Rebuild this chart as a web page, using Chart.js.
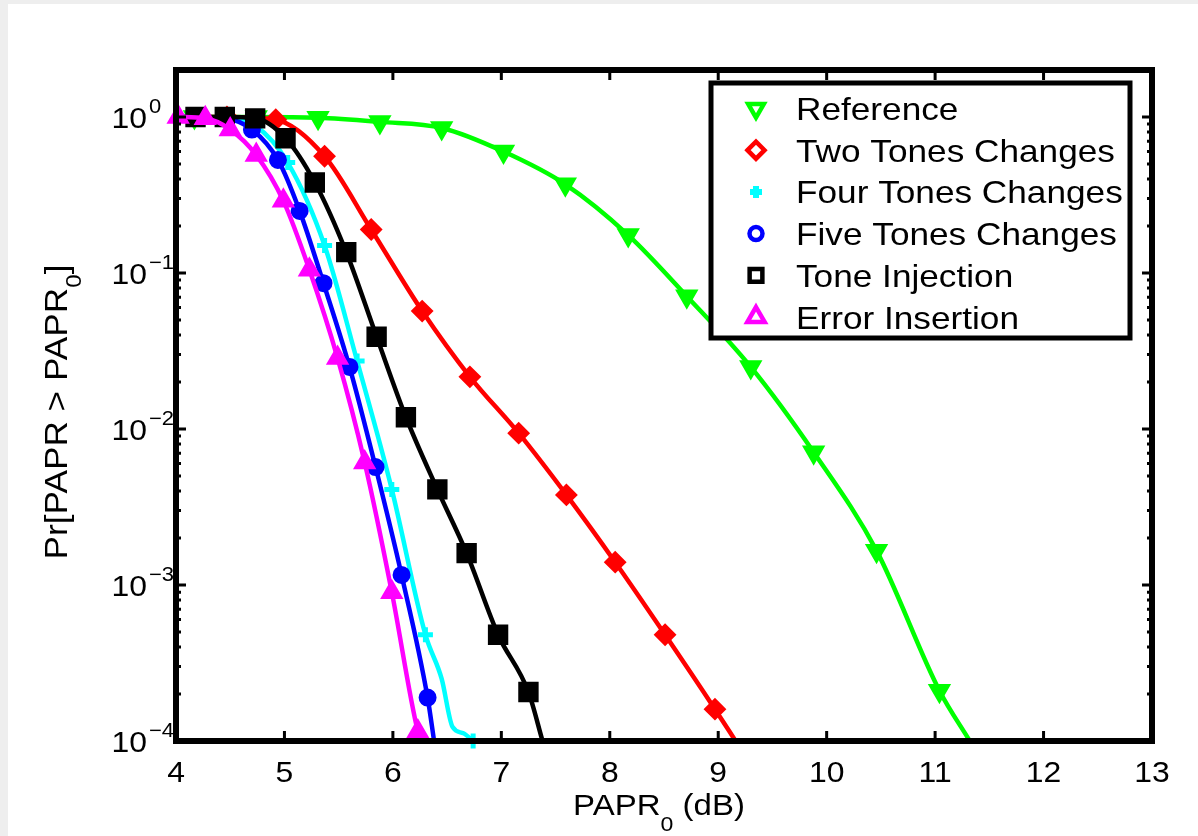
<!DOCTYPE html>
<html>
<head>
<meta charset="utf-8">
<script src="https://cdn.jsdelivr.net/npm/chart.js@4.4.0/dist/chart.umd.min.js"></script>
<style>
  html, body { margin: 0; padding: 0; background: #fff; }
  #wrap { width: 1198px; height: 836px; position: relative; }
</style>
</head>
<body>
<div id="wrap"><canvas id="ccdf" width="1198" height="836"></canvas></div>
<script>
// --- values (PAPR0 in dB, CCDF) ---
const xTicks = [4, 5, 6, 7, 8, 9, 10, 11, 12, 13];
const yDecades = [0, -1, -2, -3, -4];

const refX = [4.00, 4.17, 4.74, 5.31, 5.88, 6.45, 7.02, 7.59, 8.17, 8.71, 9.30, 9.88, 10.46, 11.04, 11.32];
const refY = [1, 1, 1, 0.99, 0.93, 0.85, 0.60, 0.37, 0.175, 0.071, 0.025, 0.0071, 0.00166, 0.00021, 0.0001];
const refLineOnly = [0, 14];

const twoX = [4.00, 4.47, 4.92, 5.37, 5.80, 6.27, 6.71, 7.16, 7.60, 8.05, 8.51, 8.97, 9.16];
const twoY = [1, 1, 0.96, 0.56, 0.19, 0.057, 0.0216, 0.0094, 0.00378, 0.0014, 0.00048, 0.00016, 0.0001];
const twoLineOnly = [0, 12];

const fourX = [4.00, 4.12, 4.43, 4.73, 5.03, 5.37, 5.67, 5.99, 6.30, 6.45, 6.55, 6.65, 6.74];
const fourY = [1, 1, 0.99, 0.88, 0.51, 0.15, 0.0273, 0.0041, 0.00048, 0.00025, 0.000123, 0.000112, 0.0001];
const fourLineOnly = [0, 9, 10, 11];

const fiveX = [4.00, 4.22, 4.46, 4.70, 4.94, 5.14, 5.36, 5.60, 5.84, 6.08, 6.32, 6.38];
const fiveY = [1, 1, 0.98, 0.83, 0.53, 0.25, 0.086, 0.025, 0.0057, 0.00116, 0.00019, 0.0001];
const fiveLineOnly = [0, 11];

const injX = [4.00, 4.18, 4.45, 4.73, 5.01, 5.28, 5.57, 5.85, 6.12, 6.41, 6.68, 6.97, 7.25, 7.38];
const injY = [1, 1, 1, 0.98, 0.73, 0.38, 0.136, 0.039, 0.0119, 0.0041, 0.0016, 0.00048, 0.000206, 0.0001];
const injLineOnly = [0, 13];

const errX = [4.02, 4.27, 4.50, 4.74, 4.99, 5.23, 5.49, 5.74, 5.99, 6.23, 6.26];
const errY = [1, 0.98, 0.83, 0.57, 0.29, 0.105, 0.0285, 0.0061, 0.0009, 0.000115, 0.0001];
const errLineOnly = [10];

const FONT = '"Liberation Sans", Arial, Helvetica, sans-serif';
const SX = 1.1; // the original lettering is a bit wider than Arial

const series = [
    { label: 'Reference', x: refX, y: refY, skip: refLineOnly, color: '#00ff00', style: 'triangle', rot: 180, r: 11.5, lr: 9 },
    { label: 'Two Tones Changes', x: twoX, y: twoY, skip: twoLineOnly, color: '#ff0000', style: 'rectRot', rot: 0, r: 10, lr: 8.5 },
    { label: 'Four Tones Changes', x: fourX, y: fourY, skip: fourLineOnly, color: '#00ffff', style: 'cross', rot: 0, r: 7.5, lr: 6 },
    { label: 'Five Tones Changes', x: fiveX, y: fiveY, skip: fiveLineOnly, color: '#0000ff', style: 'circle', rot: 0, r: 8, lr: 6.5 },
    { label: 'Tone Injection', x: injX, y: injY, skip: injLineOnly, color: '#000000', style: 'rect', rot: 0, r: 13, lr: 9 },
    { label: 'Error Insertion', x: errX, y: errY, skip: errLineOnly, color: '#ff00ff', style: 'triangle', rot: 0, r: 11.5, lr: 10 },
];

const datasets = series.map((s, i) => ({
    label: s.label,
    data: s.x.map((v, k) => ({ x: v, y: s.y[k] })),
    borderColor: s.color,
    backgroundColor: s.color,
    borderWidth: 4.5,
    cubicInterpolationMode: 'monotone',
    pointStyle: s.style,
    rotation: s.rot,
    pointRadius: ctx => s.skip.includes(ctx.dataIndex) ? 0 : s.r,
    pointBorderWidth: s.style === 'cross' ? 5 : 2,
    pointBackgroundColor: s.color,
    pointBorderColor: s.color,
    clip: false,
    order: series.length - i
}));

function txt(c, s, x, y, size, align) {
    c.save();
    c.font = size + 'px ' + FONT;
    c.translate(x, y);
    c.scale(SX, 1);
    c.textAlign = align || 'left';
    c.textBaseline = 'alphabetic';
    c.fillStyle = '#000';
    c.fillText(s, 0, 0);
    c.restore();
}
function textW(c, s, size) {
    c.save();
    c.font = size + 'px ' + FONT;
    const w = c.measureText(s).width * SX;
    c.restore();
    return w;
}

const paperPlugin = {
    id: 'paper',
    beforeDraw(chart) {
        const c = chart.ctx;
        c.save();
        c.fillStyle = '#ffffff';
        c.fillRect(0, 0, chart.width, chart.height);
        c.fillStyle = '#eeeeee';
        c.fillRect(0, 0, 8, chart.height);
        c.fillRect(0, 0, chart.width, 4);
        c.restore();
    },
    afterDraw(chart) {
        const c = chart.ctx;
        const a = chart.chartArea;
        const xs = chart.scales.x, ys = chart.scales.y;
        c.save();

        // inward ticks
        c.strokeStyle = '#000';
        c.lineWidth = 3;
        c.beginPath();
        xTicks.forEach(t => {
            const px = xs.getPixelForValue(t);
            c.moveTo(px, a.bottom); c.lineTo(px, a.bottom - 10);
            c.moveTo(px, a.top); c.lineTo(px, a.top + 10);
        });
        yDecades.forEach(d => {
            for (let m = 1; m <= 9; m++) {
                const v = m * Math.pow(10, d);
                if (v > ys.max || v < ys.min) continue;
                const py = ys.getPixelForValue(v);
                const len = m === 1 ? 10 : 5;
                c.moveTo(a.left, py); c.lineTo(a.left + len, py);
                c.moveTo(a.right, py); c.lineTo(a.right - len, py);
            }
        });
        c.stroke();

        // frame
        c.lineWidth = 6;
        c.strokeRect(a.left, a.top, a.right - a.left, a.bottom - a.top);

        // x tick labels
        xTicks.forEach(t => txt(c, String(t), xs.getPixelForValue(t), 782, 29, 'center'));

        // y tick labels 10^d
        yDecades.forEach(d => {
            const py = ys.getPixelForValue(Math.pow(10, d));
            txt(c, '10', 147, py + 11, 29, 'right');
            txt(c, d === 0 ? '0' : '\u2212' + (-d), 149, py - 4, 20, 'left');
        });

        // x title: PAPR0 (dB)
        const wA = textW(c, 'PAPR', 30), wS = textW(c, '0', 21), wB = textW(c, ' (dB)', 30);
        let sx = 659 - (wA + wS + wB) / 2;
        txt(c, 'PAPR', sx, 815, 30); sx += wA;
        txt(c, '0', sx, 831, 21); sx += wS;
        txt(c, ' (dB)', sx, 815, 30);

        // y title: Pr[PAPR > PAPR0]
        c.save();
        c.translate(67, 412);
        c.rotate(-Math.PI / 2);
        const w1 = textW(c, 'Pr[PAPR > PAPR', 32), w2 = textW(c, '0', 22), w3 = textW(c, ']', 32);
        let ty = -(w1 + w2 + w3) / 2;
        txt(c, 'Pr[PAPR > PAPR', ty, 0, 32); ty += w1;
        txt(c, '0', ty, 14, 22); ty += w2;
        txt(c, ']', ty, 0, 32);
        c.restore();

        // legend box
        const L = 711, T = 83, R = 1130, B = 338;
        c.fillStyle = '#fff';
        c.fillRect(L, T, R - L, B - T);
        c.lineWidth = 5;
        c.strokeStyle = '#000';
        c.strokeRect(L, T, R - L, B - T);
        series.forEach((s, i) => {
            const cy = 108.5 + i * 41.7;
            c.save();
            c.strokeStyle = s.color;
            c.fillStyle = s.style === 'cross' ? s.color : '#fff';
            c.lineWidth = s.style === 'cross' ? 6 : 4.5;
            Chart.helpers.drawPoint(c, { pointStyle: s.style, rotation: s.rot, radius: s.lr, borderWidth: c.lineWidth }, 756, cy);
            c.restore();
            txt(c, s.label, 796, cy + 11.5, 32);
        });

        c.restore();
    }
};

new Chart(document.getElementById('ccdf'), {
    type: 'line',
    data: { datasets },
    options: {
        responsive: false,
        animation: false,
        layout: { padding: { left: 176, top: 70, right: 46, bottom: 95 } },
        plugins: { legend: { display: false }, tooltip: { enabled: false } },
        scales: {
            x: { type: 'linear', min: 4, max: 13, display: false },
            y: { type: 'logarithmic', min: 1e-4, max: 2, display: false }
        }
    },
    plugins: [paperPlugin]
});
</script>
</body>
</html>
